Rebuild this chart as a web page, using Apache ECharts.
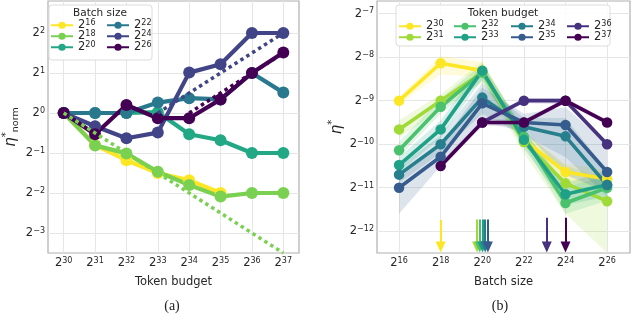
<!DOCTYPE html>
<html><head><meta charset="utf-8">
<script src="https://cdn.jsdelivr.net/npm/echarts@6/dist/echarts.min.js"></script>
<style>html,body{margin:0;padding:0;background:#fff}#c{width:640px;height:335px}</style>
</head><body><div id="c"></div>
<script>
// ---------- Data: panel (a) ----------
const tokenBudgetsA = [30, 31, 32, 33, 34, 35, 36, 37];          // log2 token budget
const batchNamesA = ['2^16', '2^18', '2^20', '2^22', '2^24', '2^26'];
const a_bs16 = [0, -0.8, -1.18, -1.5, -1.68, -2.0, null, null];   // log2 eta*_norm
const a_bs18 = [0, -0.81, -1.01, -1.47, -1.8, -2.09, -2.0, -2.0];
const a_bs20 = [0, 0, 0, 0.02, -0.53, -0.68, -1.0, -1.0];
const a_bs22 = [0, 0, 0, 0.26, 0.37, 0.34, 1.0, 0.51];
const a_bs24 = [0, -0.33, -0.63, -0.49, 1.01, 1.22, 2.0, 2.0];
const a_bs26 = [0, -0.53, 0.2, -0.13, -0.13, 0.34, 1.0, 1.51];
// dotted trend lines (endpoints)
const fitNamesA = ['2^18', '2^24', '2^26'];
const fitX = [[30, 37], [33, 37], [34, 37]];
const fitY = [[0, -3.5], [0, 2.0], [0, 1.5]];
const xTicksA = [30, 31, 32, 33, 34, 35, 36, 37];
const yTicksA = [-3, -2, -1, 0, 1, 2];

// ---------- Data: panel (b) ----------
const batchSizesB = [16, 18, 20, 22, 24, 26];                     // log2 batch size
const tokenNamesB = ['2^30', '2^31', '2^32', '2^33', '2^34', '2^35', '2^36', '2^37'];
const b_tb30 = [-9.0, -8.14, -8.31, -9.9, -10.64, -10.8];
const b_tb31 = [-9.66, -9.0, -8.35, -9.95, -10.9, -11.31];
const b_tb32 = [-10.14, -9.14, -8.35, -9.83, -11.35, -11.0];
const b_tb33 = [-10.48, -9.66, -8.31, -9.9, -11.15, -10.93];
const b_tb34 = [-10.7, -10.0, -8.93, -9.6, -9.82, -10.94];
const b_tb35 = [-11.0, -10.29, -9.06, -9.5, -9.56, -10.64];
const b_tb36 = [null, null, -9.5, -9.0, -9.0, -10.0];
const b_tb37 = [null, -10.5, -9.5, -9.5, -9.0, -9.5];
// band lower / upper bounds
const lo30 = [-9.08, -8.4, -8.45, -10.05, -10.9, -11.0],  hi30 = [-8.92, -7.97, -8.12, -9.75, -10.45, -10.6];
const lo31 = [-9.85, -9.2, -8.6, -10.2, -11.6, -12.5],    hi31 = [-9.45, -8.85, -8.1, -9.7, -10.5, -10.8];
const lo32 = [-10.3, -9.3, -8.55, -10.0, -11.6, -11.3],   hi32 = [-9.95, -8.95, -8.15, -9.65, -11.0, -10.7];
const lo33 = [-10.65, -9.85, -8.5, -10.1, -11.4, -11.2],  hi33 = [-10.3, -9.45, -8.15, -9.7, -10.9, -10.6];
const lo34 = [-10.9, -10.2, -9.3, -9.8, -10.3, -11.2],    hi34 = [-10.5, -9.8, -8.6, -9.4, -9.4, -10.6];
const lo35 = [-11.6, -10.5, -9.5, -9.7, -10.7, -11.1],    hi35 = [-10.7, -10.0, -8.7, -9.3, -9.15, -10.0];
const lo36 = [null, null, -9.56, -9.06, -9.08, -10.06],   hi36 = [null, null, -9.44, -8.94, -8.94, -9.94];
const lo37 = [null, -10.58, -9.58, -9.56, -9.06, -9.56],  hi37 = [null, -10.42, -9.42, -9.44, -8.94, -9.44];
// arrows: optimal batch size per token budget
const arrowX = [18, 19.75, 19.88, 20.01, 20.14, 20.27, 23.1, 24.0];
const arrowTop = [-11.74, -11.73, -11.73, -11.73, -11.73, -11.73, -11.69, -11.69];
const arrowEnd = -12.36;
const xTicksB = [16, 18, 20, 22, 24, 26];
const yTicksB = [-12, -11, -10, -9, -8, -7];

// ---------- Styling ----------
const FONT = 'DejaVu Sans';
const TXT = '#262626';
const colorsA = ['#fde725', '#7ad151', '#22a884', '#2a788e', '#414487', '#440154'];
const colorsB = ['#fde725', '#a0da39', '#4ac16d', '#1fa187', '#277f8e', '#365c8d', '#46327e', '#440154'];

function supText(e) { e = Math.round(e); return '{b|2}{s|' + (e < 0 ? '\u2212' + (-e) : e) + '}'; }
function richSup(size, pad) {
  return {
    b: {fontFamily: FONT, fontSize: size, color: TXT, lineHeight: size + 1, verticalAlign: 'bottom'},
    s: {fontFamily: FONT, fontSize: size * 0.7, color: TXT, lineHeight: Math.round(size * 0.7), verticalAlign: 'top', padding: [0, 0, pad, 0]}
  };
}
function hexA(hex, a) {
  const n = parseInt(hex.slice(1), 16);
  return 'rgba(' + (n >> 16) + ',' + ((n >> 8) & 255) + ',' + (n & 255) + ',' + a + ')';
}

function mkX(grid, min, max, ticks, name) {
  return {
    type: 'value', gridIndex: grid, min: min, max: max,
    axisLine: {show: false}, axisTick: {show: false, customValues: ticks},
    axisLabel: {customValues: ticks, formatter: supText, rich: richSup(11.5, 6), margin: 4},
    splitLine: {show: true, lineStyle: {color: '#e6e6e6', width: 1}},
    name: name, nameLocation: 'middle', nameGap: 17,
    nameTextStyle: {fontFamily: FONT, fontSize: 11.5, color: TXT}
  };
}
function mkY(grid, min, max, ticks, nameRich, gap) {
  return {
    type: 'value', gridIndex: grid, min: min, max: max,
    axisLine: {show: false}, axisTick: {show: false, customValues: ticks},
    axisLabel: {customValues: ticks, formatter: supText, rich: richSup(11.5, 6), margin: 3},
    splitLine: {show: true, lineStyle: {color: '#e6e6e6', width: 1}},
    name: nameRich, nameLocation: 'middle', nameGap: gap,
    nameTextStyle: {
      rich: {
        e: {fontFamily: FONT, fontSize: 15, fontStyle: 'italic', color: TXT, lineHeight: 20, verticalAlign: 'middle'},
        st: {fontFamily: FONT, fontSize: 10, color: TXT, lineHeight: 10, verticalAlign: 'top'},
        sb: {fontFamily: FONT, fontSize: 9.5, color: TXT, lineHeight: 10, verticalAlign: 'bottom'}
      }
    }
  };
}

const series = [];
// panel (a) lines
[a_bs16, a_bs18, a_bs20, a_bs22, a_bs24, a_bs26].forEach((vals, i) => {
  const data = [];
  tokenBudgetsA.forEach((t, j) => { if (vals[j] != null) data.push([t, vals[j]]); });
  series.push({
    type: 'line', name: batchNamesA[i], xAxisIndex: 0, yAxisIndex: 0, data: data,
    symbol: 'circle', symbolSize: 12, showSymbol: true,
    lineStyle: {width: 4.2, color: colorsA[i]}, itemStyle: {color: colorsA[i]}, z: 3
  });
});
fitNamesA.forEach((nm, k) => {
  const ci = batchNamesA.indexOf(nm);
  series.push({
    type: 'line', name: 'fit ' + nm, xAxisIndex: 0, yAxisIndex: 0,
    data: fitX[k].map((x, j) => [x, fitY[k][j]]),
    symbol: 'none', lineStyle: {width: 3.5, color: colorsA[ci], type: [3.5, 3.5], cap: 'butt'}, z: 4, silent: true
  });
});

// panel (b) uncertainty bands (polygons through the axes' scales)
const B = [b_tb30, b_tb31, b_tb32, b_tb33, b_tb34, b_tb35, b_tb36, b_tb37];
const LO = [lo30, lo31, lo32, lo33, lo34, lo35, lo36, lo37];
const HI = [hi30, hi31, hi32, hi33, hi34, hi35, hi36, hi37];
series.push({
  type: 'custom', name: 'bands', xAxisIndex: 1, yAxisIndex: 1, silent: true, z: 1,
  data: B.map((_, i) => [20, -10, i]), encode: {x: 0, y: 1},
  renderItem: function (params, api) {
    const i = params.dataIndex;
    const up = [], dn = [];
    batchSizesB.forEach((b, j) => {
      if (LO[i][j] != null) { up.push(api.coord([b, HI[i][j]])); dn.unshift(api.coord([b, LO[i][j]])); }
    });
    return {type: 'polygon', shape: {points: up.concat(dn)}, style: {fill: hexA(colorsB[i], i >= 6 ? 0.12 : 0.17)}};
  }
});
B.forEach((vals, i) => {
  const data = [];
  batchSizesB.forEach((b, j) => { if (vals[j] != null) data.push([b, vals[j]]); });
  series.push({
    type: 'line', name: tokenNamesB[i], xAxisIndex: 1, yAxisIndex: 1, data: data,
    symbol: 'circle', symbolSize: 10.5, lineStyle: {width: 3.6, color: colorsB[i]}, itemStyle: {color: colorsB[i]}, z: 3,
    markLine: {
      silent: true, symbol: ['none', 'triangle'], symbolSize: [10, 11], label: {show: false}, animation: false,
      lineStyle: {color: colorsB[i], width: 2, type: 'solid'}, itemStyle: {color: colorsB[i]},
      data: [[{coord: [arrowX[i], arrowTop[i]]}, {coord: [arrowX[i], arrowEnd]}]]
    }
  });
});

function legend(left, top, names) {
  return {
    orient: 'vertical', left: left, top: top, data: names, itemWidth: 22, itemHeight: 9, itemGap: -2,
    selectedMode: false, z: 10, padding: 0,
    formatter: function (n) { return supText(parseInt(n.split('^')[1])); },
    textStyle: {rich: richSup(11.5, 5)}
  };
}

const option = {
  animation: false,
  backgroundColor: '#fff',
  grid: [
    {left: 45, top: 1, width: 254, height: 252, show: true, borderColor: '#b0b0b0', borderWidth: 1.2, backgroundColor: 'transparent'},
    {left: 377, top: 1, width: 253, height: 252, show: true, borderColor: '#b0b0b0', borderWidth: 1.2, backgroundColor: 'transparent'}
  ],
  xAxis: [mkX(0, 29.5, 37.5, xTicksA, 'Token budget'), mkX(1, 14.94, 27.1, xTicksB, 'Batch size')],
  yAxis: [mkY(0, -3.5, 2.8, yTicksA, '{e|η}{st|*}{sb|norm}', 27), mkY(1, -12.5, -6.71, yTicksB, '{e|η}{st|*}', 30)],
  legend: [
    legend(50, 19, ['2^16', '2^18', '2^20']),
    legend(106, 19, ['2^22', '2^24', '2^26']),
    legend(398, 20, ['2^30', '2^31']),
    legend(453, 20, ['2^32', '2^33']),
    legend(510, 20, ['2^34', '2^35']),
    legend(566, 20, ['2^36', '2^37'])
  ],
  graphic: [
    {type: 'rect', shape: {x: 49, y: 5, width: 103, height: 55, r: 3}, style: {fill: 'rgba(255,255,255,0.85)', stroke: '#dcdcdc', lineWidth: 1}, z: 5},
    {type: 'rect', shape: {x: 396, y: 5, width: 214, height: 41, r: 3}, style: {fill: 'rgba(255,255,255,0.85)', stroke: '#dcdcdc', lineWidth: 1}, z: 5},
    {type: 'text', x: 100, y: 13, z: 11, style: {text: 'Batch size', fontFamily: FONT, fontSize: 10.5, fill: TXT, textAlign: 'center', textVerticalAlign: 'middle'}},
    {type: 'text', x: 503, y: 13, z: 11, style: {text: 'Token budget', fontFamily: FONT, fontSize: 10.5, fill: TXT, textAlign: 'center', textVerticalAlign: 'middle'}},
    {type: 'text', x: 172, y: 306, z: 11, style: {text: '(a)', fontFamily: 'Liberation Serif', fontSize: 14, fill: '#222', textAlign: 'center', textVerticalAlign: 'middle'}},
    {type: 'text', x: 500, y: 306, z: 11, style: {text: '(b)', fontFamily: 'Liberation Serif', fontSize: 14, fill: '#222', textAlign: 'center', textVerticalAlign: 'middle'}}
  ],
  series: series
};
const chart = echarts.init(document.getElementById('c'), null, {renderer: 'canvas'});
chart.setOption(option);
</script></body></html>
